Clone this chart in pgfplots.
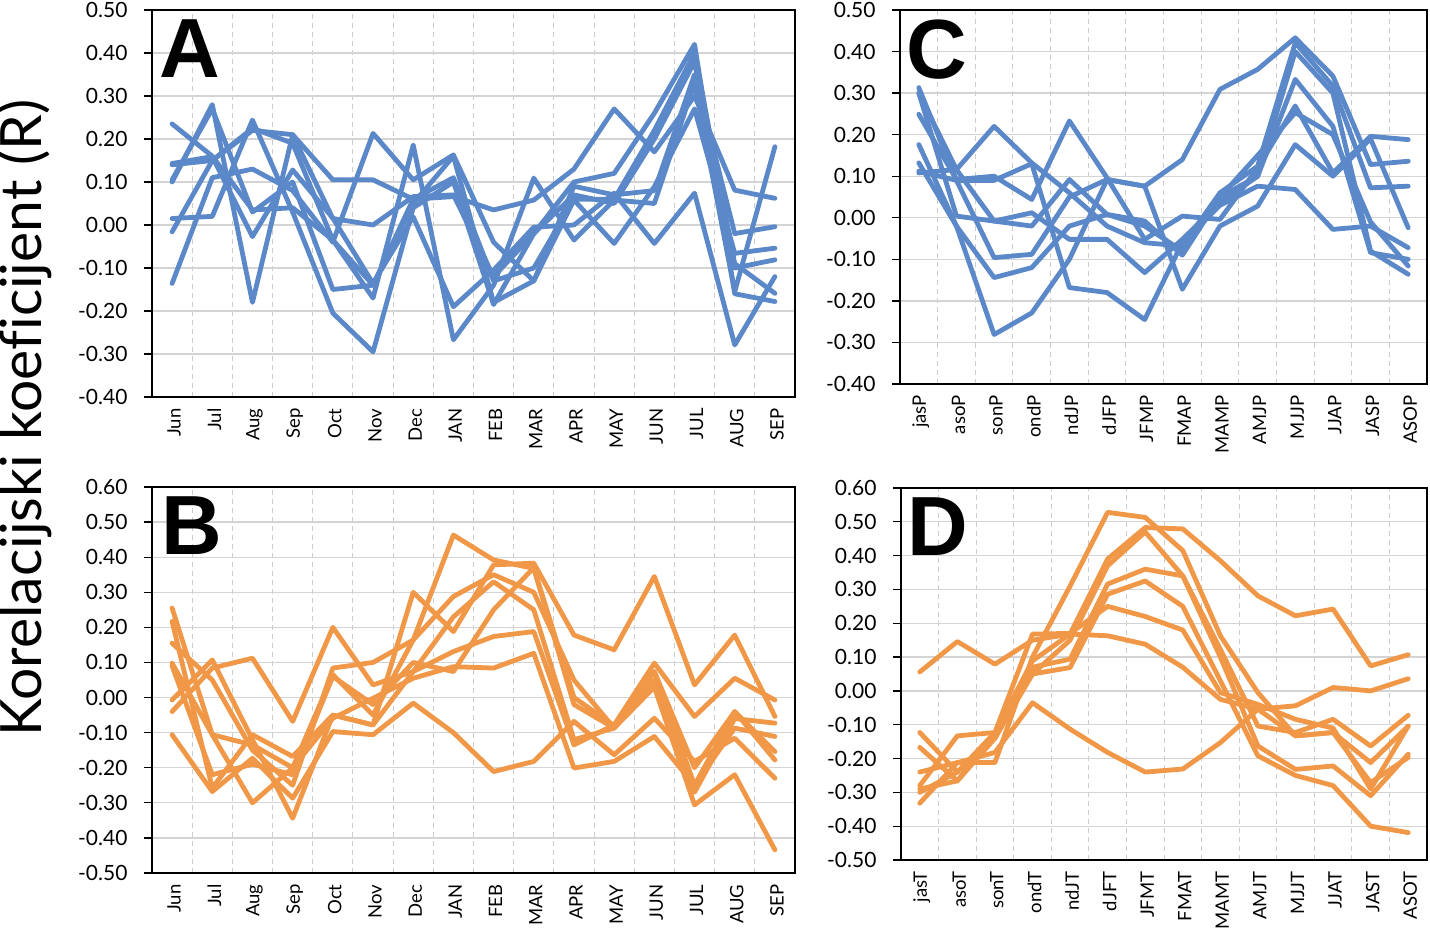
\documentclass[border=0pt]{standalone}
\usepackage{pgfplots}
\usepackage{pgfplotstable}
\pgfplotsset{compat=1.18}
\usepackage{fontspec}
\setmainfont{Lato}[Ligatures=NoCommon]
\newfontfamily\letterfont{Liberation Sans}
\definecolor{blueL}{RGB}{91,136,200}
\definecolor{orangeL}{RGB}{240,152,72}

\pgfplotstableread{
x  s1     s2     s3     s4     s5     s6     s7     s8
0  0.235  0.14   0.10   0.105  0.015  -0.016 -0.136 0.143
1  0.16   0.15   0.28   0.27   0.02   0.15   0.11   0.159
2  0.035  0.22   -0.18  0.03   0.244  0.225  0.13   -0.027
3  0.04   0.21   0.21   0.10   0.03   0.19   0.08   0.128
4  -0.035 0.105  0.015  -0.15  -0.205 -0.035 -0.04  0.016
5  -0.14  0.105  0.0    -0.14  -0.295 -0.17  0.213  -0.136
6  0.06   0.06   0.066  0.05   0.04   0.186  0.105  0.019
7  0.11   0.066  0.07   0.16   0.10   -0.267 0.163  -0.19
8  -0.13  0.035  -0.12  -0.18  -0.185 -0.14  -0.04  -0.105
9  -0.10  0.058  -0.02  -0.13  -0.02  0.109  -0.13  -0.005
10 0.06   0.13   0.10   0.09   0.07   -0.035 0.058  0.0
11 0.06   0.27   0.12   0.07   0.05   0.058  -0.043 0.074
12 0.22   0.17   0.26   0.08   0.20   0.05   0.089  -0.043
13 0.40   0.30   0.42   0.35   0.38   0.33   0.27   0.074
14 -0.09  0.081  -0.16  -0.02  -0.10  -0.155 -0.066 -0.279
15 -0.159 0.062  -0.178 -0.004 -0.081 0.182  -0.054 -0.12
}\tabA

\pgfplotstableread{
x  s1     s2     s3     s4     s5     s6     s7     s8
0  0.098  0.217  -0.04  -0.106 0.155  0.255  -0.007 0.09
1  -0.106 -0.258 0.084  -0.268 0.05   -0.106 0.107  -0.22
2  -0.135 -0.106 0.112  -0.173 -0.15  -0.30  -0.12  -0.19
3  -0.20  -0.168 -0.068 -0.287 -0.25  -0.20  -0.344 -0.22
4  0.065  -0.05  0.20   -0.097 0.084  -0.059 -0.05  0.06
5  -0.05  -0.078 0.036  -0.106 0.10   -0.002 -0.078 -0.02
6  0.164  0.30   0.074  -0.016 0.164  0.055  0.074  0.10
7  0.463  0.188  0.131  -0.10  0.288  0.088  0.23   0.074
8  0.392  0.378  0.174  -0.211 0.35   0.084  0.33   0.25
9  0.368  0.383  0.188  -0.182 0.30   0.126  0.25   0.37
10 -0.02  0.178  -0.135 -0.068 0.05   -0.201 -0.12  0.0
11 -0.087 0.136  -0.078 -0.163 -0.087 -0.182 -0.087 -0.08
12 0.074  0.345  0.098  -0.059 0.03   -0.111 0.074  0.05
13 -0.25  0.036  -0.054 -0.182 -0.306 -0.25  -0.20  -0.27
14 -0.04  0.178  0.055  -0.116 -0.22  -0.087 -0.04  -0.06
15 -0.178 -0.054 -0.007 -0.23  -0.434 -0.111 -0.154 -0.073
}\tabB

\pgfplotstableread{
x  s1     s2     s3     s4     s5     s6     s7     s8
0  0.313  0.30   0.30   0.249  0.176  0.132  0.112  0.108
1  0.09   0.116  0.004  0.092  -0.02  -0.02  0.09   0.116
2  -0.096 0.22   -0.008 0.10   -0.144 -0.281 0.09   -0.008
3  -0.088 0.132  0.012  0.044  -0.12  -0.229 0.13   -0.02
4  0.05   0.06   -0.052 0.233  -0.02  -0.10  -0.168 0.092
5  0.092  -0.02  -0.052 0.096  0.008  0.092  -0.18   0.008
6  0.076  -0.06  -0.132 -0.052 -0.008 0.076  -0.245 -0.02
7  0.14   -0.068 -0.052 0.004  -0.09  -0.172 -0.06  -0.08
8  0.309  0.06   0.036  -0.004 0.05   -0.02  0.03   0.05
9  0.357  0.124  0.10   0.12   0.15   0.028  0.076  0.10
10 0.433  0.421  0.333  0.269  0.253  0.176  0.068  0.40
11 0.341  0.317  0.22   0.108  0.20   0.10   -0.028 0.30
12 0.128  0.072  -0.084 0.196  -0.01  0.19   -0.02  -0.08
13 0.136  0.076  -0.100 0.188  -0.116 -0.024 -0.072 -0.136
}\tabC

\pgfplotstableread{
x  s1     s2     s3     s4     s5     s6     s7     s8
0  0.056  -0.24  -0.29  -0.332 -0.30  -0.167 -0.123 -0.28
1  0.146  -0.212 -0.266 -0.212 -0.24  -0.266 -0.24  -0.133
2  0.079  -0.182 -0.123 -0.212 -0.14  -0.14  -0.123 -0.123
3  0.15   -0.035 0.089  0.10   0.05   0.07   0.05   0.168
4  0.168  -0.113 0.168  0.31   0.15   0.094  0.069  0.17
5  0.163  -0.182 0.39   0.528  0.37   0.316  0.286  0.25
6  0.138  -0.24  0.483  0.513  0.47   0.36   0.325  0.22
7  0.07   -0.231 0.479  0.415  0.34   0.34   0.25   0.18
8  -0.025 -0.153 0.385  0.163  0.123  0.10   0.03   -0.005
9  -0.054 -0.054 0.281  -0.005 -0.104 -0.163 -0.192 -0.04
10 -0.133 -0.044 0.222  -0.133 -0.123 -0.232 -0.25  -0.084
11 -0.123 0.01   0.242  -0.123 -0.084 -0.222 -0.28  -0.11
12 -0.212 0.0    0.074  -0.271 -0.163 -0.31  -0.40  -0.29
13 -0.104 0.036  0.107  -0.197 -0.072 -0.187 -0.419 -0.104
}\tabD

\pgfplotsset{
  panel/.style={
    scale only axis,
    axis line style={black, line width=1.3pt},
    tick align=outside,
    ytick pos=left, xtick pos=bottom,
    major tick length=8pt,
    ytick style={black, line width=1.3pt},
    xtick style={draw=none},
    ymajorgrids,
    major grid style={draw=black!17, line width=1.3pt},
    xminorgrids,
    minor grid style={draw=black!20, dash pattern=on 5pt off 4pt, line width=1pt},
    minor tick length=0pt,
    yticklabel style={font=\fontsize{21}{24}\selectfont, xshift=-13pt},
    xticklabel style={font=\fontsize{18.5}{22}\selectfont, rotate=90, anchor=east, yshift=-2pt},
    every axis plot/.append style={line width=4.8pt, line join=round, line cap=round, mark=none},
  },
  panel16/.style={panel, xmin=-0.5, xmax=15.5, xtick={0,...,15},
    minor xtick={-0.5,0.5,...,15.5},
    xticklabels={Jun,Jul,Aug,Sep,Oct,Nov,Dec,JAN,FEB,MAR,APR,MAY,JUN,JUL,AUG,SEP}},
  panel14/.style={panel, xmin=-0.5, xmax=13.5, xtick={0,...,13},
    minor xtick={-0.5,0.5,...,13.5}},
  ytopA/.style={ymin=-0.4, ymax=0.5,
    ytick={-0.4,-0.3,-0.2,-0.1,0,0.1,0.2,0.3,0.4,0.5},
    yticklabels={-0.40,-0.30,-0.20,-0.10,0.00,0.10,0.20,0.30,0.40,0.50}},
  ybotB/.style={ymin=-0.5, ymax=0.6,
    ytick={-0.5,-0.4,-0.3,-0.2,-0.1,0,0.1,0.2,0.3,0.4,0.5,0.6},
    yticklabels={-0.50,-0.40,-0.30,-0.20,-0.10,0.00,0.10,0.20,0.30,0.40,0.50,0.60}},
}

\begin{document}
\begin{tikzpicture}[x=1pt,y=1pt]
\useasboundingbox (0,0) rectangle (1430,933);

% Panel A
\begin{axis}[panel16, ytopA, at={(152pt,923pt)}, anchor=north west, width=643pt, height=387pt]
\pgfplotsinvokeforeach{1,...,8}{\addplot[blueL] table[x=x,y=s#1]{\tabA};}
\node[anchor=north west, inner sep=0pt, font=\letterfont\bfseries\fontsize{84}{84}\selectfont] at (rel axis cs:0,1) [xshift=7pt,yshift=-10pt] {A};
\end{axis}

% Panel B
\begin{axis}[panel16, ybotB, at={(152pt,446pt)}, anchor=north west, width=643pt, height=386pt]
\pgfplotsinvokeforeach{1,...,8}{\addplot[orangeL] table[x=x,y=s#1]{\tabB};}
\node[anchor=north west, inner sep=0pt, font=\letterfont\bfseries\fontsize{84}{84}\selectfont] at (rel axis cs:0,1) [xshift=9pt,yshift=-10pt] {B};
\end{axis}

% Panel C
\begin{axis}[panel14, ytopA, at={(900pt,923pt)}, anchor=north west, width=527pt, height=374pt,
  xticklabels={jasP,asoP,sonP,ondP,ndJP,dJFP,JFMP,FMAP,MAMP,AMJP,MJJP,JJAP,JASP,ASOP}]
\pgfplotsinvokeforeach{1,...,8}{\addplot[blueL] table[x=x,y=s#1]{\tabC};}
\node[anchor=north west, inner sep=0pt, font=\letterfont\bfseries\fontsize{84}{84}\selectfont] at (rel axis cs:0,1) [xshift=6pt,yshift=-10pt] {C};
\end{axis}

% Panel D
\begin{axis}[panel14, ybotB, at={(901pt,445pt)}, anchor=north west, width=526pt, height=372pt,
  xticklabels={jasT,asoT,sonT,ondT,ndJT,dJFT,JFMT,FMAT,MAMT,AMJT,MJJT,JJAT,JAST,ASOT}]
\pgfplotsinvokeforeach{1,...,8}{\addplot[orangeL] table[x=x,y=s#1]{\tabD};}
\node[anchor=north west, inner sep=0pt, font=\letterfont\bfseries\fontsize{84}{84}\selectfont] at (rel axis cs:0,1) [xshift=6pt,yshift=-10pt] {D};
\end{axis}

\node[rotate=90, anchor=base, inner sep=0pt, font=\fontsize{57}{64}\selectfont] at (42,515) {Korelacijski koeficijent (R)};
\end{tikzpicture}
\end{document}
